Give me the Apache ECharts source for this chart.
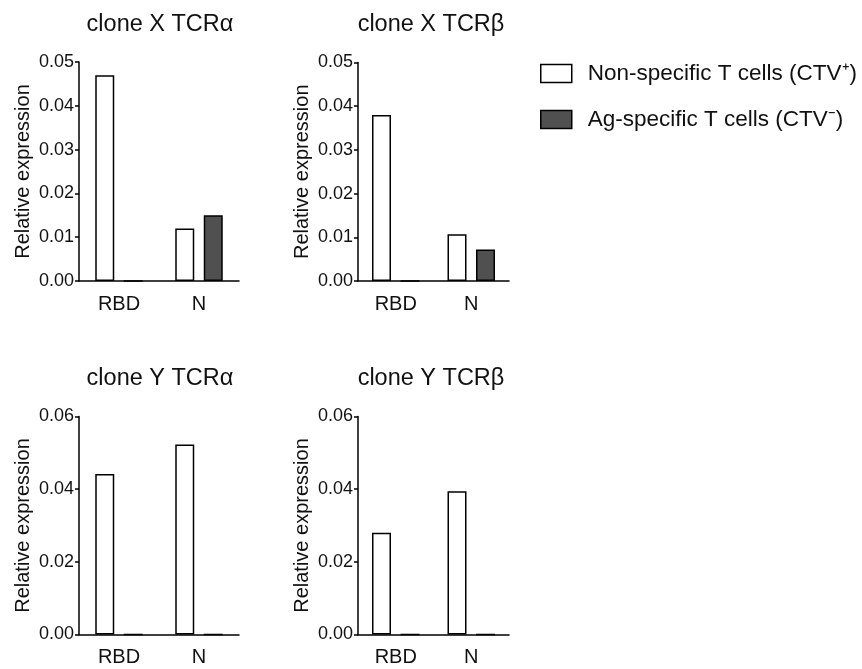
<!DOCTYPE html>
<html>
<head>
<meta charset="utf-8">
<style>
    html, body { margin: 0; padding: 0; background: #fff; }
    #chart { width: 862px; height: 669px; }
</style>
<script src="https://cdn.jsdelivr.net/npm/echarts@6/dist/echarts.min.js"></script>
</head>
<body>
<div id="chart"></div>
<script>
// categories
const categories = ['RBD', 'N'];
// series names
const nonSpecName = 'Non-specific T cells (CTV\u207A)';
const agSpecName = 'Ag-specific T cells (CTV\u207B)';
// values
const xAlphaNonSpec = [0.047, 0.012];
const xAlphaAgSpec = [0, 0.015];
const xBetaNonSpec = [0.038, 0.0107];
const xBetaAgSpec = [0, 0.0072];
const yAlphaNonSpec = [0.0442, 0.0523];
const yAlphaAgSpec = [0, 0];
const yBetaNonSpec = [0.028, 0.0394];
const yBetaAgSpec = [0, 0];
// panel titles and y axis ranges
const panelTitles = ['clone X TCR\u03B1', 'clone X TCR\u03B2', 'clone Y TCR\u03B1', 'clone Y TCR\u03B2'];
const yMaxList = [0.05, 0.05, 0.06, 0.06];
const yStepList = [0.01, 0.01, 0.02, 0.02];

const FONT = 'Liberation Sans, Arial, Helvetica, sans-serif';

let chart = echarts.init(document.getElementById('chart'));

// panel boxes: left, top, width, height
const boxes = [
    { left: 79, top: 62, width: 160, height: 219 },
    { left: 358, top: 62.5, width: 151, height: 218.5 },
    { left: 79, top: 416.5, width: 160, height: 218 },
    { left: 358, top: 416.5, width: 151, height: 218 },
];
const nonSpecData = [xAlphaNonSpec, xBetaNonSpec, yAlphaNonSpec, yBetaNonSpec];
const agSpecData = [xAlphaAgSpec, xBetaAgSpec, yAlphaAgSpec, yBetaAgSpec];

let option = {
    animation: false,
    backgroundColor: '#fff',
    title: [],
    grid: [],
    xAxis: [],
    yAxis: [],
    legend: {
        orient: 'vertical',
        left: 540,
        top: 62,
        padding: 0,
        itemWidth: 31,
        itemHeight: 18,
        itemGap: 23,
        itemStyle: { borderColor: '#000', borderWidth: 1.5 },
        textStyle: { fontFamily: FONT, fontSize: 22.5, color: '#111', padding: [0, 0, 0, 11] },
        data: [
            { name: nonSpecName, icon: 'rect' },
            { name: agSpecName, icon: 'rect' },
        ],
    },
    series: [],
};

boxes.forEach((box, i) => {
    option.title.push({
        text: panelTitles[i],
        left: i % 2 === 0 ? 160 : 431,
        top: i < 2 ? 12.5 : 366.5,
        textAlign: 'center',
        padding: 0,
        textStyle: { fontFamily: FONT, fontSize: 23.5, fontWeight: 'normal', color: '#111' },
    });
    option.grid.push({
        left: box.left,
        top: box.top,
        width: box.width,
        height: box.height,
        containLabel: false,
    });
    option.xAxis.push({
        type: 'category',
        gridIndex: i,
        data: categories,
        boundaryGap: true,
        axisLine: { lineStyle: { color: '#000', width: 1.5 } },
        axisTick: { alignWithLabel: true, length: 7, lineStyle: { color: '#000', width: 1.5 } },
        axisLabel: { margin: 13, fontFamily: FONT, fontSize: 20, color: '#111' },
    });
    option.yAxis.push({
        type: 'value',
        gridIndex: i,
        min: 0,
        max: yMaxList[i],
        interval: yStepList[i],
        name: 'Relative expression',
        nameLocation: 'middle',
        nameGap: 46,
        nameTextStyle: { fontFamily: FONT, fontSize: 20, color: '#111' },
        axisLine: { show: true, lineStyle: { color: '#000', width: 1.5 } },
        axisTick: { show: true, length: 4, lineStyle: { color: '#000', width: 1.5 } },
        axisLabel: {
            margin: 5,
            fontFamily: FONT,
            fontSize: 18,
            color: '#111',
            formatter: v => v.toFixed(2),
        },
        splitLine: { show: false },
    });
    // white bars
    option.series.push({
        name: nonSpecName,
        type: 'bar',
        xAxisIndex: i,
        yAxisIndex: i,
        barWidth: 19,
        barGap: '50%',
        itemStyle: { color: '#fff', borderColor: '#000', borderWidth: 1.5 },
        data: nonSpecData[i],
    });
    // dark bars
    option.series.push({
        name: agSpecName,
        type: 'bar',
        xAxisIndex: i,
        yAxisIndex: i,
        barWidth: 19,
        barGap: '50%',
        itemStyle: { color: '#505050', borderColor: '#000', borderWidth: 1.5 },
        data: agSpecData[i],
    });
});

chart.setOption(option);
</script>
</body>
</html>
